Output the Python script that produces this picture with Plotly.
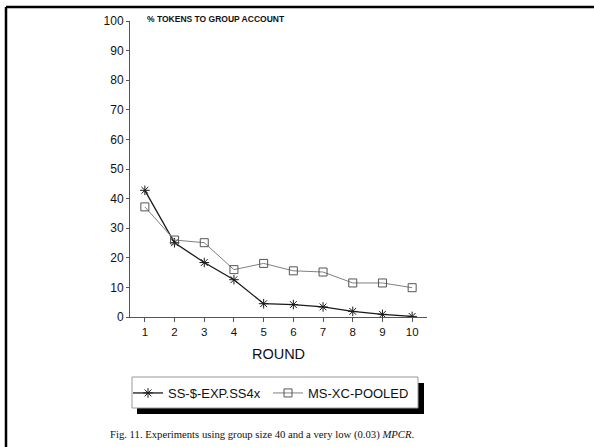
import plotly.graph_objects as go

rounds = [1, 2, 3, 4, 5, 6, 7, 8, 9, 10]
ss_exp = [42.8, 25.1, 18.4, 12.6, 4.5, 4.2, 3.4, 1.9, 0.9, 0.2]
ms_pooled = [37.2, 26.0, 25.1, 16.0, 18.1, 15.6, 15.2, 11.5, 11.5, 9.9]
series_names = ["SS-$-EXP.SS4x", "MS-XC-POOLED"]
y_ticks = [0, 10, 20, 30, 40, 50, 60, 70, 80, 90, 100]

W, H = 594, 447
L, T = 130, 21
pw, ph = 297, 296
R, B = W - L - pw, H - T - ph

def px(x):
    return (x - L) / pw

def py(y):
    return (H - B - y) / ph

fig = go.Figure()
fig.add_trace(go.Scatter(
    x=rounds, y=ss_exp, name=series_names[0], mode="lines+markers",
    line=dict(color="#1a1a1a", width=1.3),
    marker=dict(symbol="asterisk-open", size=8, color="#1a1a1a", line=dict(width=1, color="#1a1a1a")),
))
fig.add_trace(go.Scatter(
    x=rounds, y=ms_pooled, name=series_names[1], mode="lines+markers",
    line=dict(color="#808080", width=1),
    marker=dict(symbol="square-open", size=8, color="#555555", line=dict(width=1, color="#555555")),
))

shapes = []
# page border (left and top)
shapes.append(dict(type="line", xref="paper", yref="paper", x0=px(6), x1=px(600), y0=py(7), y1=py(7),
                   line=dict(color="black", width=2.5)))
shapes.append(dict(type="line", xref="paper", yref="paper", x0=px(6), x1=px(6), y0=py(7), y1=py(450),
                   line=dict(color="black", width=2.5)))
# legend shadow and box
shapes.append(dict(type="rect", xref="paper", yref="paper", x0=px(137), x1=px(424), y0=py(383), y1=py(414),
                   fillcolor="black", line=dict(width=0), layer="below"))
shapes.append(dict(type="rect", xref="paper", yref="paper", x0=px(132), x1=px(418), y0=py(377), y1=py(408),
                   fillcolor="white", line=dict(color="#999999", width=1), layer="below"))

fig.update_layout(
    width=W, height=H,
    margin=dict(l=L, r=R, t=T, b=B),
    paper_bgcolor="white", plot_bgcolor="white",
    font=dict(family="Liberation Sans, Arial, sans-serif", color="#111111"),
    showlegend=True,
    legend=dict(orientation="h", x=px(128), y=py(393), xanchor="left", yanchor="middle",
                bgcolor="rgba(0,0,0,0)", font=dict(size=13, color="#111111"),
                itemwidth=30, entrywidth=95),
    shapes=shapes,
    xaxis=dict(range=[0.5, 10.5], tickvals=rounds, ticks="outside", ticklen=4, tickcolor="#555555",
               showline=True, linecolor="#555555", linewidth=1, showgrid=False, zeroline=False,
               tickfont=dict(size=11.5),
               title=dict(text="ROUND", font=dict(size=14.5), standoff=12)),
    yaxis=dict(range=[0, 100], tickvals=y_ticks, ticks="outside", ticklen=3, tickcolor="#555555",
               showline=True, linecolor="#555555", linewidth=1, showgrid=False, zeroline=False,
               tickfont=dict(size=12), ticklabelstandoff=0),
    annotations=[
        dict(text="<b>% TOKENS TO GROUP ACCOUNT</b>", xref="paper", yref="paper", x=px(145), y=py(19),
             xanchor="left", yanchor="middle", showarrow=False, font=dict(size=8.5, color="#111111")),
        dict(text="Fig. 11. Experiments using group size 40 and a very low (0.03) <i>MPCR</i>.",
             xref="paper", yref="paper", x=px(262), y=py(434), xanchor="center", yanchor="middle",
             showarrow=False, font=dict(family="Liberation Serif, Times New Roman, serif", size=10.7, color="#111111")),
    ],
)

fig.write_html("out.html", config={"displayModeBar": False},
               post_script="document.body.style.margin='0px';")
